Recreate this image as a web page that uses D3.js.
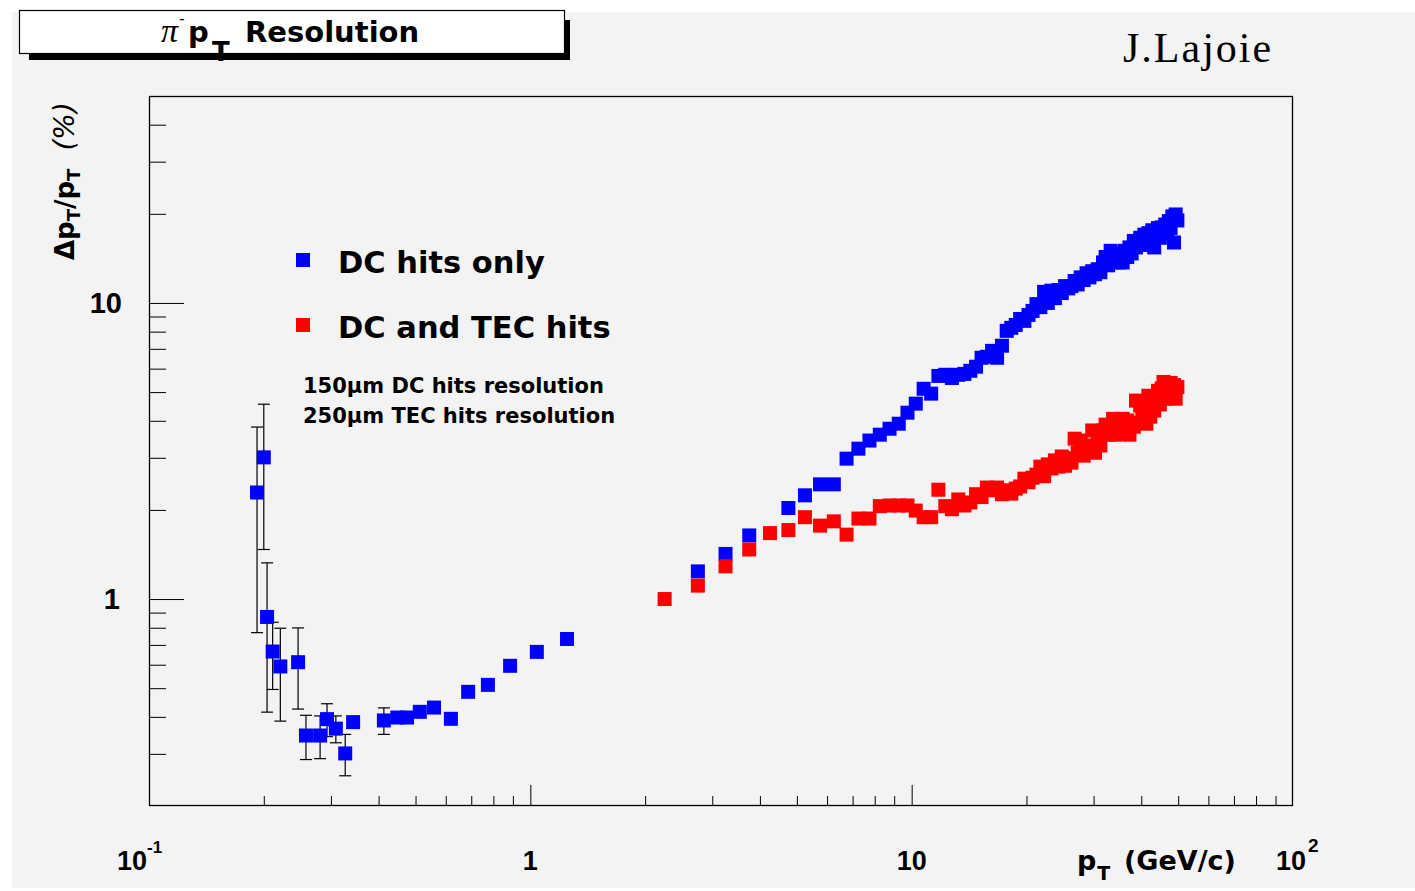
<!DOCTYPE html>
<html><head><meta charset="utf-8">
<script src="https://cdn.jsdelivr.net/npm/d3@7"></script>
<style>body{margin:0;background:#fff}svg{display:block}</style>
</head><body><svg id="c" width="1415" height="891"></svg>
<script>
// ---- data ----
const blueLowPt  = [0.192,0.200,0.204,0.211,0.221,0.246,0.258,0.281,0.293,0.309,0.327,0.343,0.413,0.448,0.475,0.513,0.559,0.619,0.687,0.774,0.885,1.04,1.248];
const blueLowVal = [2.29,3.01,0.87,0.665,0.592,0.612,0.346,0.346,0.393,0.365,0.301,0.384,0.389,0.398,0.398,0.416,0.430,0.394,0.486,0.513,0.595,0.663,0.733];
const blueLowErr = [1.52,1.54,0.455,0.17,0.205,0.187,0.059,0.057,0.05,0.038,0.048,0.01,0.04,0,0,0,0,0,0,0,0,0,0];

const blueHiPt = [2.75,3.25,3.75,4.75,5.25,5.75,6.25,6.75,7.25,7.75,8.25,8.75,9.25,9.75,10.25,10.75,11.25,11.75,12.25,12.75,13.25,13.75,14.25,14.75,15.25,15.75,16.25,16.75,17.25,17.75,18.25,18.75,19.25,19.75,20.25,20.75,21.25,21.75,22.25,22.75,23.25,23.75,24.25,24.75,25.25,25.75,26.25,26.75,27.25,27.75,28.25,28.75,29.25,29.75,30.25,30.75,31.25,31.75,32.25,32.75,33.25,33.75,34.25,34.75,35.25,35.75,36.25,36.75,37.25,37.75,38.25,38.75,39.25,39.75,40.25,40.75,41.25,41.75,42.25,42.75,43.25,43.75,44.25,44.75,45.25,45.75,46.25,46.75,47.25,47.75,48.25,48.75,49.25,49.75];
const blueHiVal = [1.24,1.42,1.64,2.03,2.24,2.44,2.44,2.98,3.22,3.43,3.59,3.76,3.91,4.26,4.57,5.13,4.94,5.67,5.72,5.58,5.72,5.76,5.90,6.09,6.53,6.58,6.89,6.53,7.17,8.05,8.24,8.43,8.83,8.70,9.11,9.40,9.91,9.68,10.9,10.0,11.0,10.38,11.06,10.8,11.4,11.2,11.4,11.86,11.55,12.2,11.95,12.6,12.2,12.8,12.5,13.0,12.7,13.7,14.3,13.4,15.0,14.2,14.7,13.7,14.5,13.7,15.0,14.3,15.4,14.7,16.2,15.4,15.8,16.6,15.7,17.0,16.2,17.2,16.4,17.6,15.4,16.9,17.9,16.6,18.0,17.2,18.4,17.5,18.9,17.9,19.6,16.0,19.9,19.0];

const redPt = [2.25,2.75,3.25,3.75,4.25,4.75,5.25,5.75,6.25,6.75,7.25,7.75,8.25,8.75,9.25,9.75,10.25,10.75,11.25,11.75,12.25,12.75,13.25,13.75,14.25,14.75,15.25,15.75,16.25,16.75,17.25,17.75,18.25,18.75,19.25,19.75,20.25,20.75,21.25,21.75,22.25,22.75,23.25,23.75,24.25,24.75,25.25,25.75,26.25,26.75,27.25,27.75,28.25,28.75,29.25,29.75,30.25,30.75,31.25,31.75,32.25,32.75,33.25,33.75,34.25,34.75,35.25,35.75,36.25,36.75,37.25,37.75,38.25,38.75,39.25,39.75,40.25,40.75,41.25,41.75,42.25,42.75,43.25,43.75,44.25,44.75,45.25,45.75,46.25,46.75,47.25,47.75,48.25,48.75,49.25,49.75];
const redVal = [1.00,1.11,1.29,1.47,1.67,1.71,1.89,1.77,1.83,1.65,1.87,1.87,2.06,2.07,2.07,2.07,1.99,1.89,1.89,2.34,2.06,2.01,2.17,2.07,2.12,2.26,2.21,2.38,2.33,2.38,2.26,2.33,2.27,2.36,2.40,2.55,2.48,2.57,2.63,2.80,2.60,2.85,2.76,2.94,2.80,3.03,2.82,2.99,2.89,3.48,3.12,3.43,3.05,3.30,3.20,3.71,3.12,3.59,3.30,3.71,3.88,3.59,3.82,4.06,3.59,4.01,3.65,4.06,3.76,4.01,3.59,3.85,3.82,4.68,3.94,4.50,4.13,4.61,3.91,4.86,4.13,4.75,4.33,4.83,5.05,4.54,5.15,5.41,4.75,5.24,4.83,5.37,4.90,5.28,4.75,5.20];

const xMajorTicks = [1,10];
const xMinorTicks = [0.2,0.3,0.4,0.5,0.6,0.7,0.8,0.9,2,3,4,5,6,7,8,9,20,30,40,50,60,70,80,90];
const yMajorTicks = [1,10];
const yMinorTicks = [0.3,0.4,0.5,0.6,0.7,0.8,0.9,2,3,4,5,6,7,8,9,20,30,40];

const seriesNames = ["DC hits only","DC and TEC hits"];
const seriesColors = ["#0000ff","#ff0000"];

// ---- drawing ----
const svg = d3.select('#c');
const BOLD = "'DejaVu Sans', sans-serif";
const HEL = "'Liberation Sans', Arial, sans-serif";

svg.append('rect').attr('x',12).attr('y',12).attr('width',1403).attr('height',876).attr('fill','#f3f3f3');

const x = d3.scaleLog().domain([0.1,100]).range([149,1293]);
const y = d3.scaleLog().domain([0.2,50]).range([806,96]);

function tickAxis(gen, vals, size, tr){
  const g = svg.append('g').attr('transform',tr)
    .call(gen.tickValues(vals).tickSize(size).tickFormat(''));
  g.select('.domain').remove();
  g.selectAll('line').attr('stroke','#000').attr('stroke-width',1);
}
tickAxis(d3.axisBottom(x), xMajorTicks, -21, 'translate(0,806)');
tickAxis(d3.axisBottom(x), xMinorTicks, -10, 'translate(0,806)');
tickAxis(d3.axisLeft(y), yMajorTicks, -35, 'translate(149,0)');
tickAxis(d3.axisLeft(y), yMinorTicks, -17, 'translate(149,0)');

// frame
svg.append('rect').attr('x',149.5).attr('y',96.5).attr('width',1143).attr('height',709)
  .attr('fill','none').attr('stroke','#000').attr('stroke-width',1.3);

// tick labels
const xl = svg.append('g').attr('font-family',HEL).attr('font-weight','bold').attr('font-size',27).attr('fill','#000');
let lab = xl.append('text').attr('x',117).attr('y',870);
lab.append('tspan').text('10');
lab.append('tspan').attr('font-size',17).attr('dy',-17).text('-1');
xl.append('text').attr('x',x(1)).attr('y',870).attr('text-anchor','middle').text('1');
xl.append('text').attr('x',x(10)).attr('y',870).attr('text-anchor','middle').text('10');
lab = xl.append('text').attr('x',1276).attr('y',870);
lab.append('tspan').text('10');
lab.append('tspan').attr('font-size',19).attr('dx',2).attr('dy',-18).text('2');

const yl = svg.append('g').attr('font-family',HEL).attr('font-weight','bold').attr('font-size',29).attr('fill','#000');
yl.append('text').attr('x',122).attr('y',y(10)+10).attr('text-anchor','end').text('10');
yl.append('text').attr('x',120).attr('y',y(1)+10).attr('text-anchor','end').text('1');

// axis titles
const xt = svg.append('text').attr('x',1077).attr('y',870).attr('font-family',BOLD).attr('font-weight','bold').attr('font-size',27).attr('fill','#000');
xt.append('tspan').text('p');
xt.append('tspan').attr('font-size',19).attr('dx',1).attr('dy',10).text('T');
xt.append('tspan').attr('x',1124).attr('dy',-10).text('(GeV/c)');

const yt = svg.append('text').attr('transform','translate(74,260) rotate(-90)')
  .attr('font-family',BOLD).attr('font-weight','bold').attr('font-size',26).attr('fill','#000');
yt.append('tspan').text('Δp');
yt.append('tspan').attr('font-size',18).attr('dy',6).text('T');
yt.append('tspan').attr('dy',-6).text('/p');
yt.append('tspan').attr('font-size',18).attr('dy',6).text('T');
yt.append('tspan').attr('dy',-6).attr('dx',18).attr('font-weight','normal').attr('font-style','italic').attr('font-size',28).text('(%)');

// title box
svg.append('rect').attr('x',29).attr('y',53).attr('width',541).attr('height',7).attr('fill','#000');
svg.append('rect').attr('x',564).attr('y',20).attr('width',6).attr('height',40).attr('fill','#000');
svg.append('rect').attr('x',19.5).attr('y',10.5).attr('width',545).attr('height',43)
  .attr('fill','#fff').attr('stroke','#000').attr('stroke-width',1.2);
const tt = svg.append('text').attr('x',161).attr('y',42).attr('fill','#000')
  .attr('font-family',BOLD).attr('font-weight','bold').attr('font-size',29);
tt.append('tspan').attr('font-family',"'Liberation Serif', 'DejaVu Serif', serif").attr('font-weight','normal').attr('font-style','italic').attr('font-size',34).text('π');
tt.append('tspan').attr('font-weight','normal').attr('font-size',16).attr('dx',1).attr('dy',-18).text('-');
tt.append('tspan').attr('x',188).attr('dy',18).text('p');
tt.append('tspan').attr('x',212).attr('dy',19).attr('font-size',26).text('T');
tt.append('tspan').attr('x',245).attr('dy',-19).text('Resolution');
svg.append('line').attr('x1',19.5).attr('x2',564.5).attr('y1',53.5).attr('y2',53.5).attr('stroke','#000').attr('stroke-width',1.2);

// author
svg.append('text').attr('x',1123).attr('y',62).attr('font-family',"'Liberation Serif', 'Times New Roman', serif")
  .attr('font-size',42).attr('letter-spacing',2).attr('fill','#000').text('J.Lajoie');

// legend
const lg = svg.append('g');
seriesNames.forEach((n,i)=>{
  const yy = [273,338][i];
  lg.append('rect').attr('x',296).attr('y',yy-20).attr('width',14).attr('height',14).attr('fill',seriesColors[i]);
  lg.append('text').attr('x',338).attr('y',yy).attr('font-family',BOLD).attr('font-weight','bold')
    .attr('font-size',30.5).attr('fill','#000').text(n);
});
lg.append('text').attr('x',303).attr('y',393).attr('font-family',BOLD).attr('font-weight','bold').attr('font-size',21).text('150μm DC hits resolution');
lg.append('text').attr('x',303).attr('y',423).attr('font-family',BOLD).attr('font-weight','bold').attr('font-size',21).text('250μm TEC hits resolution');

// error bars
const errData = blueLowPt.map((p,i)=>({p, v:blueLowVal[i], e:blueLowErr[i]})).filter(d=>d.e>0);
const eb = svg.append('g').attr('stroke','#000').attr('stroke-width',1.2);
errData.forEach(d=>{
  const cx = x(d.p), y1 = y(d.v+d.e), y2 = y(Math.max(d.v-d.e, 0.2));
  eb.append('line').attr('x1',cx).attr('x2',cx).attr('y1',y1).attr('y2',y2);
  eb.append('line').attr('x1',cx-6).attr('x2',cx+6).attr('y1',y1).attr('y2',y1);
  eb.append('line').attr('x1',cx-6).attr('x2',cx+6).attr('y1',y2).attr('y2',y2);
});

// markers
const S = 14;
const blue = blueLowPt.map((p,i)=>[p,blueLowVal[i]]).concat(blueHiPt.map((p,i)=>[p,blueHiVal[i]]));
const red = redPt.map((p,i)=>[p,redVal[i]]);
[[blue,seriesColors[0]],[red,seriesColors[1]]].forEach(([data,col])=>{
  svg.append('g').selectAll('rect').data(data).join('rect')
    .attr('x',d=>x(d[0])-S/2).attr('y',d=>y(d[1])-S/2)
    .attr('width',S).attr('height',S).attr('fill',col);
});
</script></body></html>
